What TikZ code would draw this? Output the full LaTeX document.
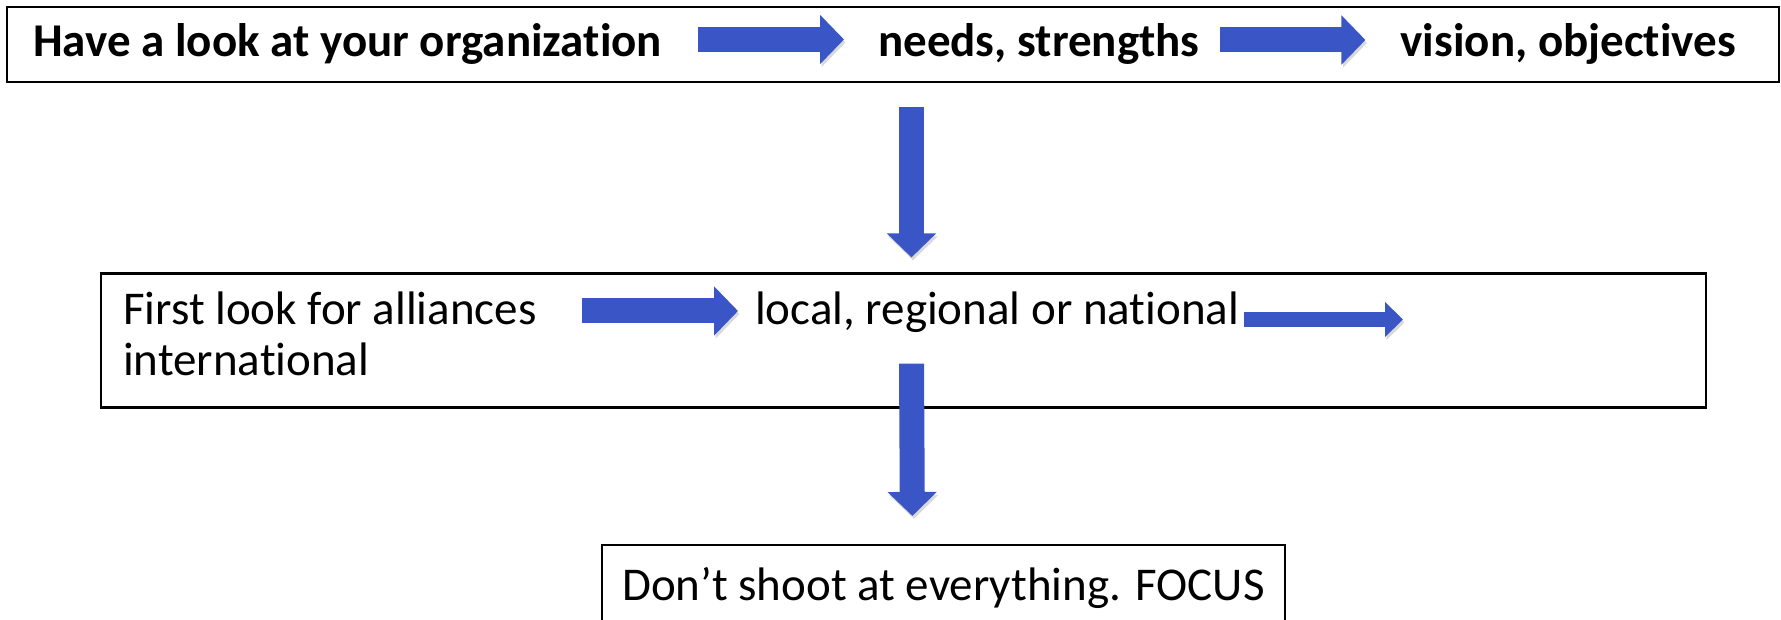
\documentclass[tikz,border=0pt]{standalone}
\usepackage{fontspec}
\setmainfont[Ligatures=NoCommon]{Carlito}
\usetikzlibrary{arrows.meta}
\definecolor{arrowblue}{RGB}{58,86,198}
\tikzset{
  frame/.style={draw, line width=2.2pt, inner sep=0pt},
  txt/.style={inner sep=0pt, font=\fontsize{47pt}{50pt}\selectfont},
  bold/.style={txt, font=\fontsize{47pt}{50pt}\selectfont\bfseries},
  blockarrow/.style={draw=arrowblue, line width=25pt,
    -{Triangle[width=48pt,length=24pt]},
    preaction={draw=black!15, transform canvas={xshift=1.5pt,yshift=-3pt}}},
  thinarrow/.style={blockarrow, line width=15pt,
    -{Triangle[width=34pt,length=18pt]}}
}
\begin{document}
\begin{tikzpicture}[x=1pt,y=-1pt]
\useasboundingbox (0,0) rectangle (1781,620);
% frames
\node[frame, minimum width=1772pt, minimum height=75pt]  (toprow) at (893,44.5) {};
\node[frame, minimum width=1605pt, minimum height=134pt] (midrow) at (903.5,340.5) {};
% top row
\node[bold, anchor=base west] (org)    at (33,57)   {Have a look at your organization};
\node[bold, anchor=base west] (needs)  at (878,57)  {needs, strengths};
\node[bold, anchor=base east] (vision) at (1736,57) {vision, objectives};
% middle row
\node[txt, anchor=base west] (first) at (123,325) {First look for alliances};
\node[txt, anchor=base west] (intl)  at (123,375) {international};
\node[txt, anchor=base west] (local) at (755,325) {local, regional or national};
\coordinate (midend) at (1403,319.5);
% bottom
\node[frame, txt, anchor=base west, inner xsep=20pt, inner ysep=22pt,
      text height=33pt, text depth=10pt] (focus) at (601,600)
      {Don’t shoot at everything. FOCUS};
% arrows
\draw[blockarrow] ([xshift=36pt,yshift=17.5pt]org.base east) -- ([xshift=-34pt,yshift=17.5pt]needs.base west);
\draw[blockarrow] ([xshift=21pt,yshift=17pt]needs.base east) -- ([xshift=-35pt,yshift=17pt]vision.base west);
\draw[blockarrow] ([xshift=45pt,yshift=14pt]first.base east) -- ([xshift=-17pt,yshift=14pt]local.base west);
\draw[thinarrow] ([xshift=5pt,yshift=5.5pt]local.base east) -- (midend);
\draw[blockarrow] ([xshift=18.5pt,yshift=-24pt]toprow.south) -- ([xshift=8pt,yshift=15pt]midrow.north);
\draw[blockarrow] ([xshift=8pt,yshift=45pt]midrow.south) -- ([xshift=-31pt,yshift=28pt]focus.north);
\end{tikzpicture}
\end{document}
